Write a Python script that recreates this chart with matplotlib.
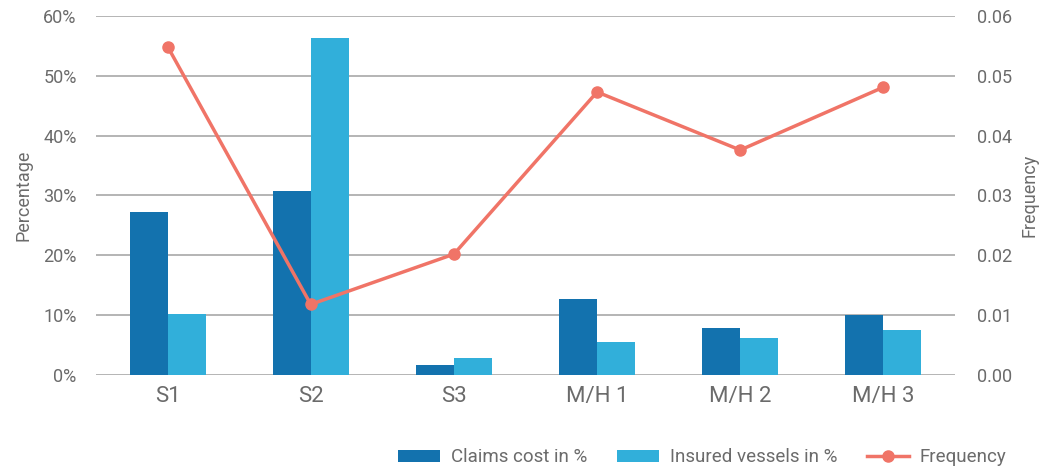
import matplotlib
matplotlib.use("Agg")
import matplotlib.pyplot as plt
import numpy as np
from matplotlib.ticker import FuncFormatter

categories = ["S1", "S2", "S3", "M/H 1", "M/H 2", "M/H 3"]
claims_cost = [27.3, 30.8, 1.7, 12.7, 7.9, 10.0]
insured_vessels = [10.2, 56.4, 2.8, 5.5, 6.2, 7.5]
frequency = [0.0549, 0.0118, 0.0202, 0.0473, 0.0376, 0.0481]

plt.rcParams['font.family'] = ['Roboto', 'DejaVu Sans']
text_color = "#6b6b6b"
c_dark = "#1372AE"
c_light = "#31AFDA"
c_line = "#F07467"
grid_c = "#A8A8A8"

fig = plt.figure(figsize=(10.39, 4.67), dpi=100)
ax = fig.add_axes([96/1039, 1-375/467, (955-96)/1039, (375-16)/467])
ax2 = ax.twinx()

x = np.arange(len(categories))
w = 0.266
ax.bar(x - w/2, claims_cost, w, color=c_dark, label="Claims cost in %", zorder=2)
ax.bar(x + w/2, insured_vessels, w, color=c_light, label="Insured vessels in %", zorder=2)
ax2.plot(x, frequency, color=c_line, lw=2.5, marker='o', ms=8, label="Frequency", zorder=3)

ax.set_xlim(-0.5, len(categories) - 0.5)
ax.set_ylim(0, 60)
ax2.set_ylim(0, 0.06)
ax.set_yticks(np.arange(0, 61, 10))
ax2.set_yticks(np.arange(0, 0.061, 0.01))
ax.yaxis.set_major_formatter(FuncFormatter(lambda v, p: f"{v:.0f}%"))
ax2.yaxis.set_major_formatter(FuncFormatter(lambda v, p: f"{v:.2f}"))
ax.grid(axis='y', color=grid_c, lw=1.2, zorder=0)
ax.set_axisbelow(True)
for a in (ax, ax2):
    for s in a.spines.values():
        s.set_visible(False)
    a.tick_params(length=0, colors=text_color, labelsize=13)
ax.set_xticks(x)
ax.set_xticklabels(categories, fontsize=16)
ax.tick_params(axis='x', pad=8)
ax.tick_params(axis='y', pad=14)
ax2.tick_params(axis='y', pad=16)
ax.set_ylabel("Percentage", color=text_color, fontsize=13, labelpad=8)
ax2.set_ylabel("Frequency", color=text_color, fontsize=13, labelpad=6)

h1, l1 = ax.get_legend_handles_labels()
h2, l2 = ax2.get_legend_handles_labels()
leg = fig.legend(h1 + h2, l1 + l2, loc='lower right', bbox_to_anchor=(0.985, -0.035), ncol=3,
                 frameon=False, fontsize=13.5, handlelength=2.2, handleheight=0.6,
                 columnspacing=1.6, handletextpad=0.6)
for t in leg.get_texts():
    t.set_color(text_color)

fig.savefig("out.png", dpi=100)
